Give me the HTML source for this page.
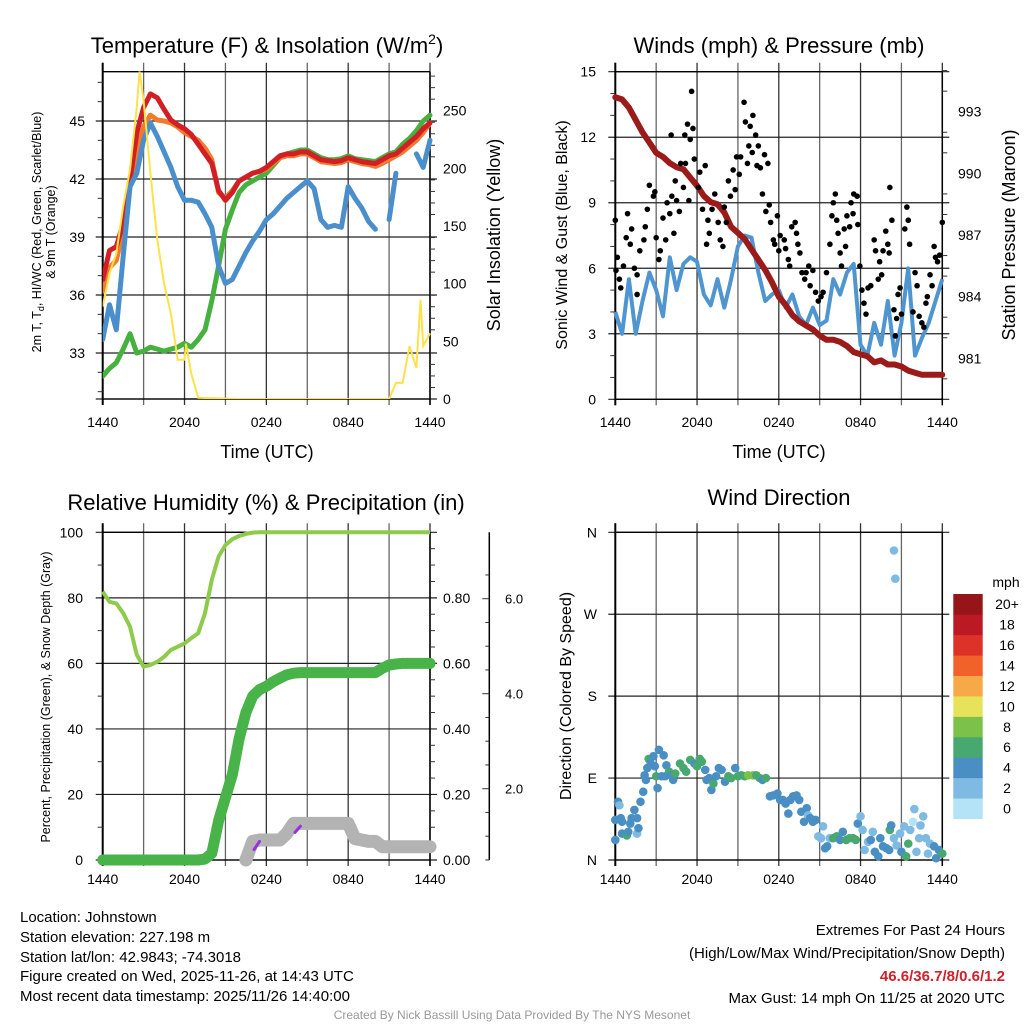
<!DOCTYPE html>
<html><head><meta charset="utf-8"><style>
html,body{margin:0;padding:0;background:#fff;}
svg{display:block;font-family:"Liberation Sans",Arial,sans-serif;}
</style></head><body>
<svg id="chart" width="1024" height="1024" viewBox="0 0 1024 1024" xmlns="http://www.w3.org/2000/svg">
<rect x="0" y="0" width="1024" height="1024" fill="#fff"/>
<text x="267" y="53" font-size="22" text-anchor="middle">Temperature (F) &amp; Insolation (W/m<tspan dy="-9" font-size="14">2</tspan><tspan dy="9">)</tspan></text>
<text x="779" y="53" font-size="22" text-anchor="middle">Winds (mph) &amp; Pressure (mb)</text>
<text x="266" y="510" font-size="22" text-anchor="middle">Relative Humidity (%) &amp; Precipitation (in)</text>
<text x="779" y="505" font-size="22" text-anchor="middle">Wind Direction</text>
<text x="267" y="458" font-size="18" text-anchor="middle">Time (UTC)</text>
<text x="779" y="458" font-size="18" text-anchor="middle">Time (UTC)</text>
<g transform="translate(41,232) rotate(-90)">
<text x="0" y="0" font-size="12.5" text-anchor="middle">2m T, T<tspan dy="3" font-size="9">d</tspan><tspan dy="-3">, HI/WC (Red, Green, Scarlet/Blue)</tspan></text>
<text x="0" y="14" font-size="12.5" text-anchor="middle">&amp; 9m T (Orange)</text></g>
<text transform="translate(500,235) rotate(-90)" font-size="18" text-anchor="middle">Solar Insolation (Yellow)</text>
<text transform="translate(567,235) rotate(-90)" font-size="16" text-anchor="middle">Sonic Wind &amp; Gust (Blue, Black)</text>
<text transform="translate(1015,235) rotate(-90)" font-size="18" text-anchor="middle">Station Pressure (Maroon)</text>
<text transform="translate(50,697) rotate(-90)" font-size="12.5" text-anchor="middle">Percent, Precipitation (Green), &amp; Snow Depth (Gray)</text>
<text transform="translate(571,696) rotate(-90)" font-size="16" text-anchor="middle">Direction (Colored By Speed)</text>
<text x="1006" y="587" font-size="14" text-anchor="middle">mph</text>
<g font-size="15">
<text x="20" y="922">Location: Johnstown</text>
<text x="20" y="942">Station elevation: 227.198 m</text>
<text x="20" y="962">Station lat/lon: 42.9843; -74.3018</text>
<text x="20" y="981">Figure created on Wed, 2025-11-26, at 14:43 UTC</text>
<text x="20" y="1001">Most recent data timestamp: 2025/11/26 14:40:00</text>
</g>
<g font-size="15" text-anchor="end">
<text x="1005" y="935">Extremes For Past 24 Hours</text>
<text x="1005" y="958">(High/Low/Max Wind/Precipitation/Snow Depth)</text>
<text x="1005" y="981" fill="#d0202a" font-weight="bold">46.6/36.7/8/0.6/1.2</text>
<text x="1005" y="1003">Max Gust: 14 mph On 11/25 at 2020 UTC</text>
</g>
<text x="512" y="1019" font-size="12" fill="#999" text-anchor="middle">Created By Nick Bassill Using Data Provided By The NYS Mesonet</text>
</svg>
<script>
// ---------- data ----------
const hours = [0,0.5,1,1.5,2,2.5,3,3.5,4,4.5,5,5.5,6,6.5,7,7.5,8,8.5,9,9.5,10,10.5,11,11.5,12,12.5,13,13.5,14,14.5,15,15.5,16,16.5,17,17.5,18,18.5,19,19.5,20,20.5,21,21.5,22,22.5,23,23.5,24];
const tempRed = [36.8,38.3,38.5,39.7,41.9,44.4,45.7,46.4,46.2,45.6,45.05,44.8,44.6,44.3,43.8,43.3,42.8,41.4,40.9,41.3,41.9,42.1,42.3,42.4,42.6,42.9,43.2,43.3,43.3,43.4,43.4,43.2,43.0,42.95,42.9,42.95,43.1,43.0,42.9,42.85,42.8,43.0,43.2,43.3,43.6,43.9,44.2,44.6,44.9];
const temp9m = [36.2,37.4,37.8,39.3,41.6,43.5,44.7,45.3,45.05,45.0,44.9,44.7,44.4,44.2,44.0,43.6,43.0,41.3,41.0,41.4,41.9,42.1,42.3,42.4,42.5,42.8,43.1,43.2,43.2,43.3,43.3,43.1,42.9,42.85,42.8,42.85,43.0,42.9,42.8,42.75,42.65,42.8,43.0,43.2,43.4,43.7,44.0,44.4,44.9];
const dewpoint = [31.8,32.2,32.5,33.2,34.0,33.0,33.1,33.3,33.2,33.1,33.2,33.3,33.5,33.3,33.7,34.2,35.7,37.5,39.4,40.4,41.3,41.7,41.9,42.1,42.3,42.7,43.1,43.3,43.4,43.5,43.5,43.3,43.1,43.0,43.0,43.05,43.2,43.05,43.0,42.95,42.9,43.1,43.3,43.4,43.8,44.1,44.5,45.0,45.3];
const windChill = [33.7,35.5,34.2,38.0,41.6,42.3,44.0,44.9,44.2,43.4,42.6,41.6,40.9,40.9,40.8,40.2,39.5,37.5,36.6,36.8,37.5,38.2,38.8,39.3,39.9,40.2,40.6,41.0,41.3,41.6,41.9,41.5,39.9,39.5,39.6,39.5,41.6,41.0,40.5,39.8,39.4,null,39.9,42.3,null,null,43.3,42.6,44.0];
const insolHours = [0,0.5,1,1.5,2,2.5,2.7,3,3.5,4,4.5,5,5.5,6,6.1,6.5,7,10,15,21,21.5,22,22.5,23,23.3,23.5,24];
const insolValues = [80,109,126,167,199,253,284,259,196,138,100,74,34,34,48,22,1,0,0,0,14,14,46,27,86,46,57];
const tempTicks = [33,36,39,42,45];
const insolTicks = [0,50,100,150,200,250];
const timeLabels = ["1440","2040","0240","0840","1440"];

const windSpeed = [4.0,3.0,5.5,3.0,4.5,5.8,5.0,3.8,6.5,5.0,6.2,6.5,6.3,4.8,4.3,5.5,4.2,5.5,7.0,7.5,7.4,5.8,4.5,4.8,5.0,4.2,4.8,3.8,3.4,4.2,3.4,3.6,5.5,4.8,5.8,6.2,2.5,2.0,3.5,2.5,4.5,2.0,3.5,6.0,2.0,2.8,3.5,4.5,5.5];
const pressure = [993.7,993.6,993.2,992.6,992.0,991.5,991.0,990.8,990.5,990.3,990.2,989.8,989.4,988.9,988.6,988.5,988.1,987.4,987.1,986.8,986.3,985.8,985.3,984.7,984.0,983.6,983.1,982.8,982.6,982.4,982.1,981.9,981.9,981.8,981.6,981.3,981.2,981.1,980.8,980.9,980.7,980.7,980.6,980.4,980.3,980.2,980.2,980.2,980.2];
const gustHours = [0,0.05,0.15,0.3,0.4,0.6,0.8,0.9,1.1,1.2,1.4,1.6,1.6,1.8,2.1,2.2,2.35,2.5,2.8,2.9,3.0,3.2,3.3,3.5,3.7,3.8,4.0,4.1,4.15,4.3,4.4,4.5,4.7,4.8,5.0,5.1,5.15,5.3,5.4,5.5,5.6,5.7,5.8,6.1,6.2,6.4,6.6,6.7,6.8,6.9,7.1,7.3,7.55,7.7,7.9,8.0,8.15,8.3,8.45,8.65,8.8,8.9,9.1,9.2,9.45,9.55,9.7,9.8,9.9,10.05,10.1,10.3,10.4,10.5,10.65,10.8,10.95,11.05,11.2,11.3,11.4,11.6,11.7,11.9,12.0,12.1,12.4,12.5,12.7,12.8,12.95,13.2,13.3,13.4,13.55,13.7,13.9,14.0,14.2,14.3,14.5,14.7,14.9,15.1,15.25,15.5,15.75,15.9,16.0,16.15,16.25,16.35,16.5,16.6,16.8,16.9,17.0,17.2,17.3,17.45,17.5,17.75,17.8,17.95,18.1,18.25,18.4,18.55,18.75,19.0,19.1,19.3,19.4,19.55,19.65,19.85,20.0,20.1,20.15,20.3,20.45,20.55,20.65,20.75,20.9,21.0,21.25,21.4,21.5,21.6,21.85,22.0,22.15,22.3,22.5,22.65,22.8,22.9,23.1,23.25,23.4,23.5,23.65,23.8,24.0];
const gustValues = [8.2,5.9,6.5,5.5,5.1,6.1,7.4,8.5,7.1,7.8,6.0,5.7,4.8,6.8,7.3,7.9,8.7,9.8,9.3,9.5,7.4,6.4,6.8,8.3,7.3,9.0,8.5,12.1,9.3,7.6,10.0,9.1,8.6,10.8,9.7,12.1,10.8,12.6,9.1,11.9,14.1,12.4,11.0,9.7,10.4,8.7,10.7,7.1,8.2,7.6,8.7,9.4,8.1,7.3,7.0,8.8,8.1,10.0,9.3,10.5,9.6,11.1,10.3,11.1,13.6,12.7,10.8,11.6,12.5,11.3,13.0,12.1,10.7,11.6,10.6,9.4,11.2,8.6,10.8,8.9,8.1,7.3,7.1,8.4,6.8,7.5,7.3,6.9,6.4,6.1,7.9,8.1,7.6,7.1,6.7,5.8,5.5,5.8,6.1,5.2,5.9,4.9,4.5,4.7,4.9,5.8,7.1,8.4,9.0,9.4,8.2,7.6,6.7,6.1,7.8,7.0,8.4,7.9,9.0,8.5,9.4,9.3,8.0,6.1,5.0,4.4,3.9,5.1,5.2,7.3,6.8,5.5,6.3,5.7,6.8,7.7,7.1,6.7,9.7,8.2,4.1,2.9,3.7,4.8,5.1,3.9,7.8,8.8,8.2,7.1,4.0,5.8,5.2,3.8,3.5,3.3,4.4,4.7,5.7,5.2,7.0,6.5,6.3,6.6,8.1];
const windTicks = [0,3,6,9,12,15];
const pressureTicks = [981,984,987,990,993];

const rhValues = [81.9,78.8,78.3,75.3,71.2,62.6,59.0,59.5,60.5,62.0,64.1,65.1,66.1,67.7,69.2,75.3,85.5,92.6,96.1,97.9,98.9,99.5,99.9,100,100,100,100,100,100,100,100,100,100,100,100,100,100,100,100,100,100,100,100,100,100,100,100,100,100];
const precipValues = [0,0,0,0,0,0,0,0,0,0,0,0,0,0,0,0.003,0.02,0.12,0.19,0.26,0.37,0.45,0.50,0.52,0.53,0.544,0.555,0.565,0.57,0.572,0.572,0.572,0.572,0.572,0.572,0.572,0.572,0.572,0.572,0.572,0.572,0.585,0.595,0.598,0.60,0.60,0.60,0.60,0.60];
const snowDepth = [null,null,null,null,null,null,null,null,null,null,null,null,null,null,null,null,null,null,null,null,null,0.5,0.89,0.92,0.92,0.92,0.92,1.06,1.27,1.27,1.27,1.27,1.27,1.27,1.27,1.27,1.27,0.95,0.92,0.89,0.89,0.78,0.78,0.78,0.78,0.78,0.78,0.78,0.78];
const snowRateHours = [11.1,11.5,14.1,14.5];
const snowRateValues = [0.72,0.89,1.08,1.21];
const pctTicks = [0,20,40,60,80,100];
const precipTicks = ["0.00","0.20","0.40","0.60","0.80"];
const snowTicks = [2.0,4.0,6.0];

const dirHours = [0,0,0.2,0.3,0.4,0.5,0.5,0.85,0.95,1.1,1.2,1.4,1.6,1.6,1.7,1.85,2.05,2.15,2.25,2.35,2.45,2.6,2.8,2.9,3.0,3.1,3.2,3.4,3.55,3.65,3.75,3.95,4.1,4.25,4.4,4.75,5.0,5.2,5.5,5.8,6.0,6.2,6.35,6.6,6.7,6.9,7.05,7.2,7.4,7.6,7.8,8.05,8.3,8.5,8.8,9.0,9.25,9.5,9.75,10.1,10.35,10.6,10.8,11.05,11.35,11.6,11.9,12.1,12.3,12.5,12.7,12.85,13.05,13.3,13.5,13.65,13.85,14.05,14.15,14.3,14.5,14.7,14.9,15.1,15.25,15.4,15.55,15.75,16.0,16.25,16.5,16.7,16.95,17.2,17.45,17.65,17.8,18.0,18.15,18.3,18.55,18.75,18.9,19.05,19.3,19.45,19.65,19.9,20.1,20.15,20.25,20.45,20.65,20.9,21.0,21.2,21.35,21.5,21.65,21.85,21.95,22.1,22.3,22.4,22.6,22.8,22.95,23.1,23.4,23.55,23.75,24,20.45,20.55];
const dirDegrees = [22,44,64,60,46,42,29,27,31,40,46,55,46,29,35,64,75,93,88,101,111,106,114,103,92,79,121,92,115,92,104,97,93,88,95,106,101,97,110,106,103,111,108,99,88,90,77,84,92,101,99,86,92,90,101,92,93,92,93,93,93,90,88,90,70,71,73,66,66,62,51,66,70,71,66,53,42,57,49,46,42,44,26,24,37,13,15,24,24,26,22,31,22,24,24,22,40,48,33,11,20,22,31,9,4,24,15,13,11,33,38,24,16,29,9,37,4,18,33,42,56,9,24,38,48,24,7,18,15,2,11,7,340,309];
const dirSpeeds = [5,5,5,3,5,5,5,7,5,5,5,5,5,3,5,5,5,5,5,5,7,5,5,5,7,5,5,5,5,5,5,7,5,5,7,7,7,7,7,5,7,7,7,5,5,5,5,7,5,5,5,5,7,7,5,7,7,7,9,9,7,7,5,7,5,5,5,5,5,5,5,5,5,5,5,5,5,5,3,5,5,5,3,3,3,5,5,3,7,7,5,5,7,7,7,7,5,3,3,3,3,5,3,5,5,5,5,5,5,7,5,3,3,3,5,3,7,7,3,1,3,3,3,3,3,3,3,3,5,5,5,7,3,3];
const dirLabels = ["N","E","S","W","N"];
const speedBins = ["0","2","4","6","8","10","12","14","16","18","20+"];
const speedColors = ["#b4e2f7","#7fbae3","#4a8fc4","#47a870","#7cc24a","#e6e35a","#f7a847","#f0622a","#dc3228","#bb1a24","#951519"];

// ---------- helpers ----------
const NS = "http://www.w3.org/2000/svg";
const svg = document.getElementById("chart");
function mk(tag, attrs, parent) {
  const el = document.createElementNS(NS, tag);
  for (const k in attrs) el.setAttribute(k, attrs[k]);
  (parent || svg).appendChild(el);
  return el;
}
function linePath(xs, ys, xf, yf) {
  let d = "", pen = false;
  for (let i = 0; i < xs.length; i++) {
    if (ys[i] === null || ys[i] === undefined) { pen = false; continue; }
    d += (pen ? "L" : "M") + xf(xs[i]).toFixed(1) + "," + yf(ys[i]).toFixed(1);
    pen = true;
  }
  return d;
}
function panelGrid(g, x0, x1, y0, y1, yLines) {
  for (let k = 0; k <= 8; k++) {
    const x = x0 + (x1 - x0) * k / 8;
    const l = mk("line", {x1: x, x2: x, y1: y0 - 9, y2: y1 + 6, stroke: k % 2 ? "#666" : "#333", "stroke-width": 1.3}, g);
    
    
  }
  yLines.forEach(y => {
    const l = mk("line", {x1: x0 - 7, x2: x1 + 7, y1: y, y2: y, stroke: "#222", "stroke-width": 1.2}, g);
    
    
  });
  const fr = mk("line", {x1: x0, x2: x0, y1: y0 - 9, y2: y1 + 6, stroke: "#000", "stroke-width": 2}, g);
  
  
  const fr2 = mk("line", {x1: x1, x2: x1, y1: y0, y2: y1 + 6, stroke: "#000", "stroke-width": 1.5}, g);
  
  
  const t = mk("line", {x1: x0, x2: x1, y1: y0, y2: y0, stroke: "#000", "stroke-width": 1.3}, g);
  
  
  const b = mk("line", {x1: x0, x2: x1, y1: y1, y2: y1, stroke: "#000", "stroke-width": 1.3}, g);
  
  
}
function timeAxis(g, x0, x1, y) {
  timeLabels.forEach((lab, i) => {
    const t = mk("text", {x: x0 + (x1 - x0) * i / 4, y: y, "font-size": 14, "text-anchor": "middle"}, g);
    t.textContent = lab;
    
    
  });
}
function label(g, x, y, txt, anchor, size) {
  const t = mk("text", {x: x, y: y, "font-size": size || 14, "text-anchor": anchor}, g);
  t.textContent = txt;
  
  
  return t;
}
function minor(g, x, y, len) {
  const l = mk("line", {x1: x, x2: x + len, y1: y, y2: y, stroke: "#333", "stroke-width": 1}, g);
  
  
}

// ---------- panel 1: temperature ----------
(function () {
  const x0 = 102.7, x1 = 430, y0 = 71.7, y1 = 399;
  const xf = h => x0 + h / 24 * (x1 - x0);
  const tY = t => 121 + (45 - t) * 58 / 3;
  const iY = v => y1 - v * 288.3 / 250;
  const g = mk("g", {});
  
  
  panelGrid(g, x0, x1, y0, y1, tempTicks.map(tY).concat([y1]));
  tempTicks.forEach(t => label(g, 85, tY(t) + 5, String(t), "end"));
  for (let t = 31; t <= 47; t++) if (t % 3) minor(g, x0 - 5, tY(t), 5);
  insolTicks.forEach(v => { label(g, 443, iY(v) + 5, String(v), "start"); });
  for (let v = 10; v <= 280; v += 10) if (v % 50) minor(g, x1, iY(v), 5);
  timeAxis(g, x0, x1, 427);
  const clip = mk("clipPath", {id: "c1"}, g);
  mk("rect", {x: x0, y: y0 - 10, width: x1 - x0 + 4, height: y1 - y0 + 10}, clip);
  const lg = mk("g", {"clip-path": "url(#c1)"}, g);
  const series = [[dewpoint, "#46b13f", "dewpoint-line"], [temp9m, "#f07a30", "temp-9m-line"], [tempRed, "#d21f26", "temp-2m-line"], [windChill, "#4a8fcb", "windchill-line"]];
  series.forEach(s => {
    const p = mk("path", {d: linePath(hours, s[0], xf, tY), fill: "none", stroke: s[1], "stroke-width": 5, "stroke-linejoin": "round", "stroke-linecap": "round"}, lg);
    
    
  });
  const ins = mk("path", {d: linePath(insolHours, insolValues, xf, iY), fill: "none", stroke: "#fde24a", "stroke-width": 2}, lg);
  
  
})();

// ---------- panel 2: wind & pressure ----------
(function () {
  const x0 = 615.3, x1 = 942.3, y0 = 71.7, y1 = 399.3;
  const xf = h => x0 + h / 24 * (x1 - x0);
  const wY = m => y1 - m * (y1 - y0) / 15;
  const pY = p => 111.7 + (993 - p) * 20.55;
  const g = mk("g", {});
  
  
  panelGrid(g, x0, x1, y0, y1, windTicks.map(wY));
  windTicks.forEach(m => label(g, 596, wY(m) + 5, String(m), "end"));
  pressureTicks.forEach(p => label(g, 958, pY(p) + 5, String(p), "start"));
  for (let p = 980; p <= 995; p++) if ((p - 981) % 3) minor(g, x1, pY(p), 5);
  for (let m = 1; m < 15; m++) if (m % 3) minor(g, x0 - 5, wY(m), 5);
  timeAxis(g, x0, x1, 427);
  const ws = mk("path", {d: linePath(hours, windSpeed, xf, wY), fill: "none", stroke: "#4f95d0", "stroke-width": 4, "stroke-linejoin": "round"}, g);
  
  
  const pr = mk("path", {d: linePath(hours, pressure, xf, pY), fill: "none", stroke: "#9b1b1b", "stroke-width": 6, "stroke-linejoin": "round", "stroke-linecap": "round"}, g);
  
  
  gustHours.forEach((h, i) => {
    const c = mk("circle", {cx: xf(h), cy: wY(gustValues[i]), r: 2.8, fill: "#000"}, g);
    
    
  });
})();

// ---------- panel 3: RH & precip ----------
(function () {
  const x0 = 102.7, x1 = 430, y0 = 532.3, y1 = 860;
  const xf = h => x0 + h / 24 * (x1 - x0);
  const pctY = v => y1 - v * (y1 - y0) / 100;
  const prY = v => pctY(v * 100);
  const sY = v => 883.7 - v * 47.5;
  const g = mk("g", {});
  
  
  panelGrid(g, x0, x1, y0, y1, pctTicks.map(pctY));
  pctTicks.forEach(v => label(g, 83, pctY(v) + 5, String(v), "end"));
  precipTicks.forEach((s, i) => label(g, 443, pctY(i * 20) + 5, s, "start"));
  for (let v = 10; v < 100; v += 10) if (v % 20) minor(g, x0 - 5, pctY(v), 5);
  for (let v = 5; v < 100; v += 5) if (v % 20) minor(g, x1, pctY(v), 5);
  const ax = mk("line", {x1: 489.3, x2: 489.3, y1: y0, y2: y1, stroke: "#000", "stroke-width": 1.5}, g);
  
  
  snowTicks.forEach(v => { minor(g, 489.3, sY(v), -7); label(g, 505, sY(v) + 5, v.toFixed(1), "start", 13); });
  for (let v = 0.5; v < 7; v += 0.5) if (v % 2) minor(g, 489.3, sY(v), -4);
  timeAxis(g, x0, x1, 884);
  const sn = mk("path", {d: linePath(hours, snowDepth, xf, sY), fill: "none", stroke: "#b3b3b3", "stroke-width": 13, "stroke-linejoin": "round", "stroke-linecap": "round"}, g);
  
  
  for (let i = 0; i < snowRateHours.length; i += 2) {
    const pr = mk("path", {d: linePath(snowRateHours.slice(i, i + 2), snowRateValues.slice(i, i + 2), xf, sY), fill: "none", stroke: "#9b30e0", "stroke-width": 3, "stroke-linecap": "round"}, g);
    
    
  }
  const pc = mk("path", {d: linePath(hours, precipValues, xf, prY), fill: "none", stroke: "#48b349", "stroke-width": 11, "stroke-linejoin": "round", "stroke-linecap": "round"}, g);
  
  
  const rh = mk("path", {d: linePath(hours, rhValues, xf, pctY), fill: "none", stroke: "#8ecb4c", "stroke-width": 4, "stroke-linejoin": "round"}, g);
  
  
})();

// ---------- panel 4: wind direction ----------
(function () {
  const x0 = 615.3, x1 = 942.3, y0 = 532.3, y1 = 860;
  const xf = h => x0 + h / 24 * (x1 - x0);
  const dY = d => y1 - d * (y1 - y0) / 360;
  const g = mk("g", {});
  
  
  panelGrid(g, x0, x1, y0, y1, dirLabels.map((l, i) => dY(i * 90)));
  dirLabels.forEach((l, i) => label(g, 597, dY(i * 90) + 5, l, "end"));
  timeAxis(g, x0, x1, 884);
  dirHours.forEach((h, i) => {
    const bin = Math.min(10, Math.floor(dirSpeeds[i] / 2));
    const c = mk("circle", {cx: xf(h), cy: dY(dirDegrees[i]), r: 4.3, fill: speedColors[bin]}, g);
    
    
  });
  const cb = mk("g", {}, g);
  
  
  const top = 594, bot = 818.7, h = (bot - top) / speedBins.length;
  speedBins.forEach((s, i) => {
    const y = bot - (i + 1) * h;
    const r = mk("rect", {x: 953.3, y: y, width: 29.4, height: h + 0.3, fill: speedColors[i]}, cb);
    
    
    const t = mk("text", {x: 1007, y: y + h / 2 + 5, "font-size": 14, "text-anchor": "middle"}, cb);
    t.textContent = s;
    
    
  });
})();
</script>
</body></html>
